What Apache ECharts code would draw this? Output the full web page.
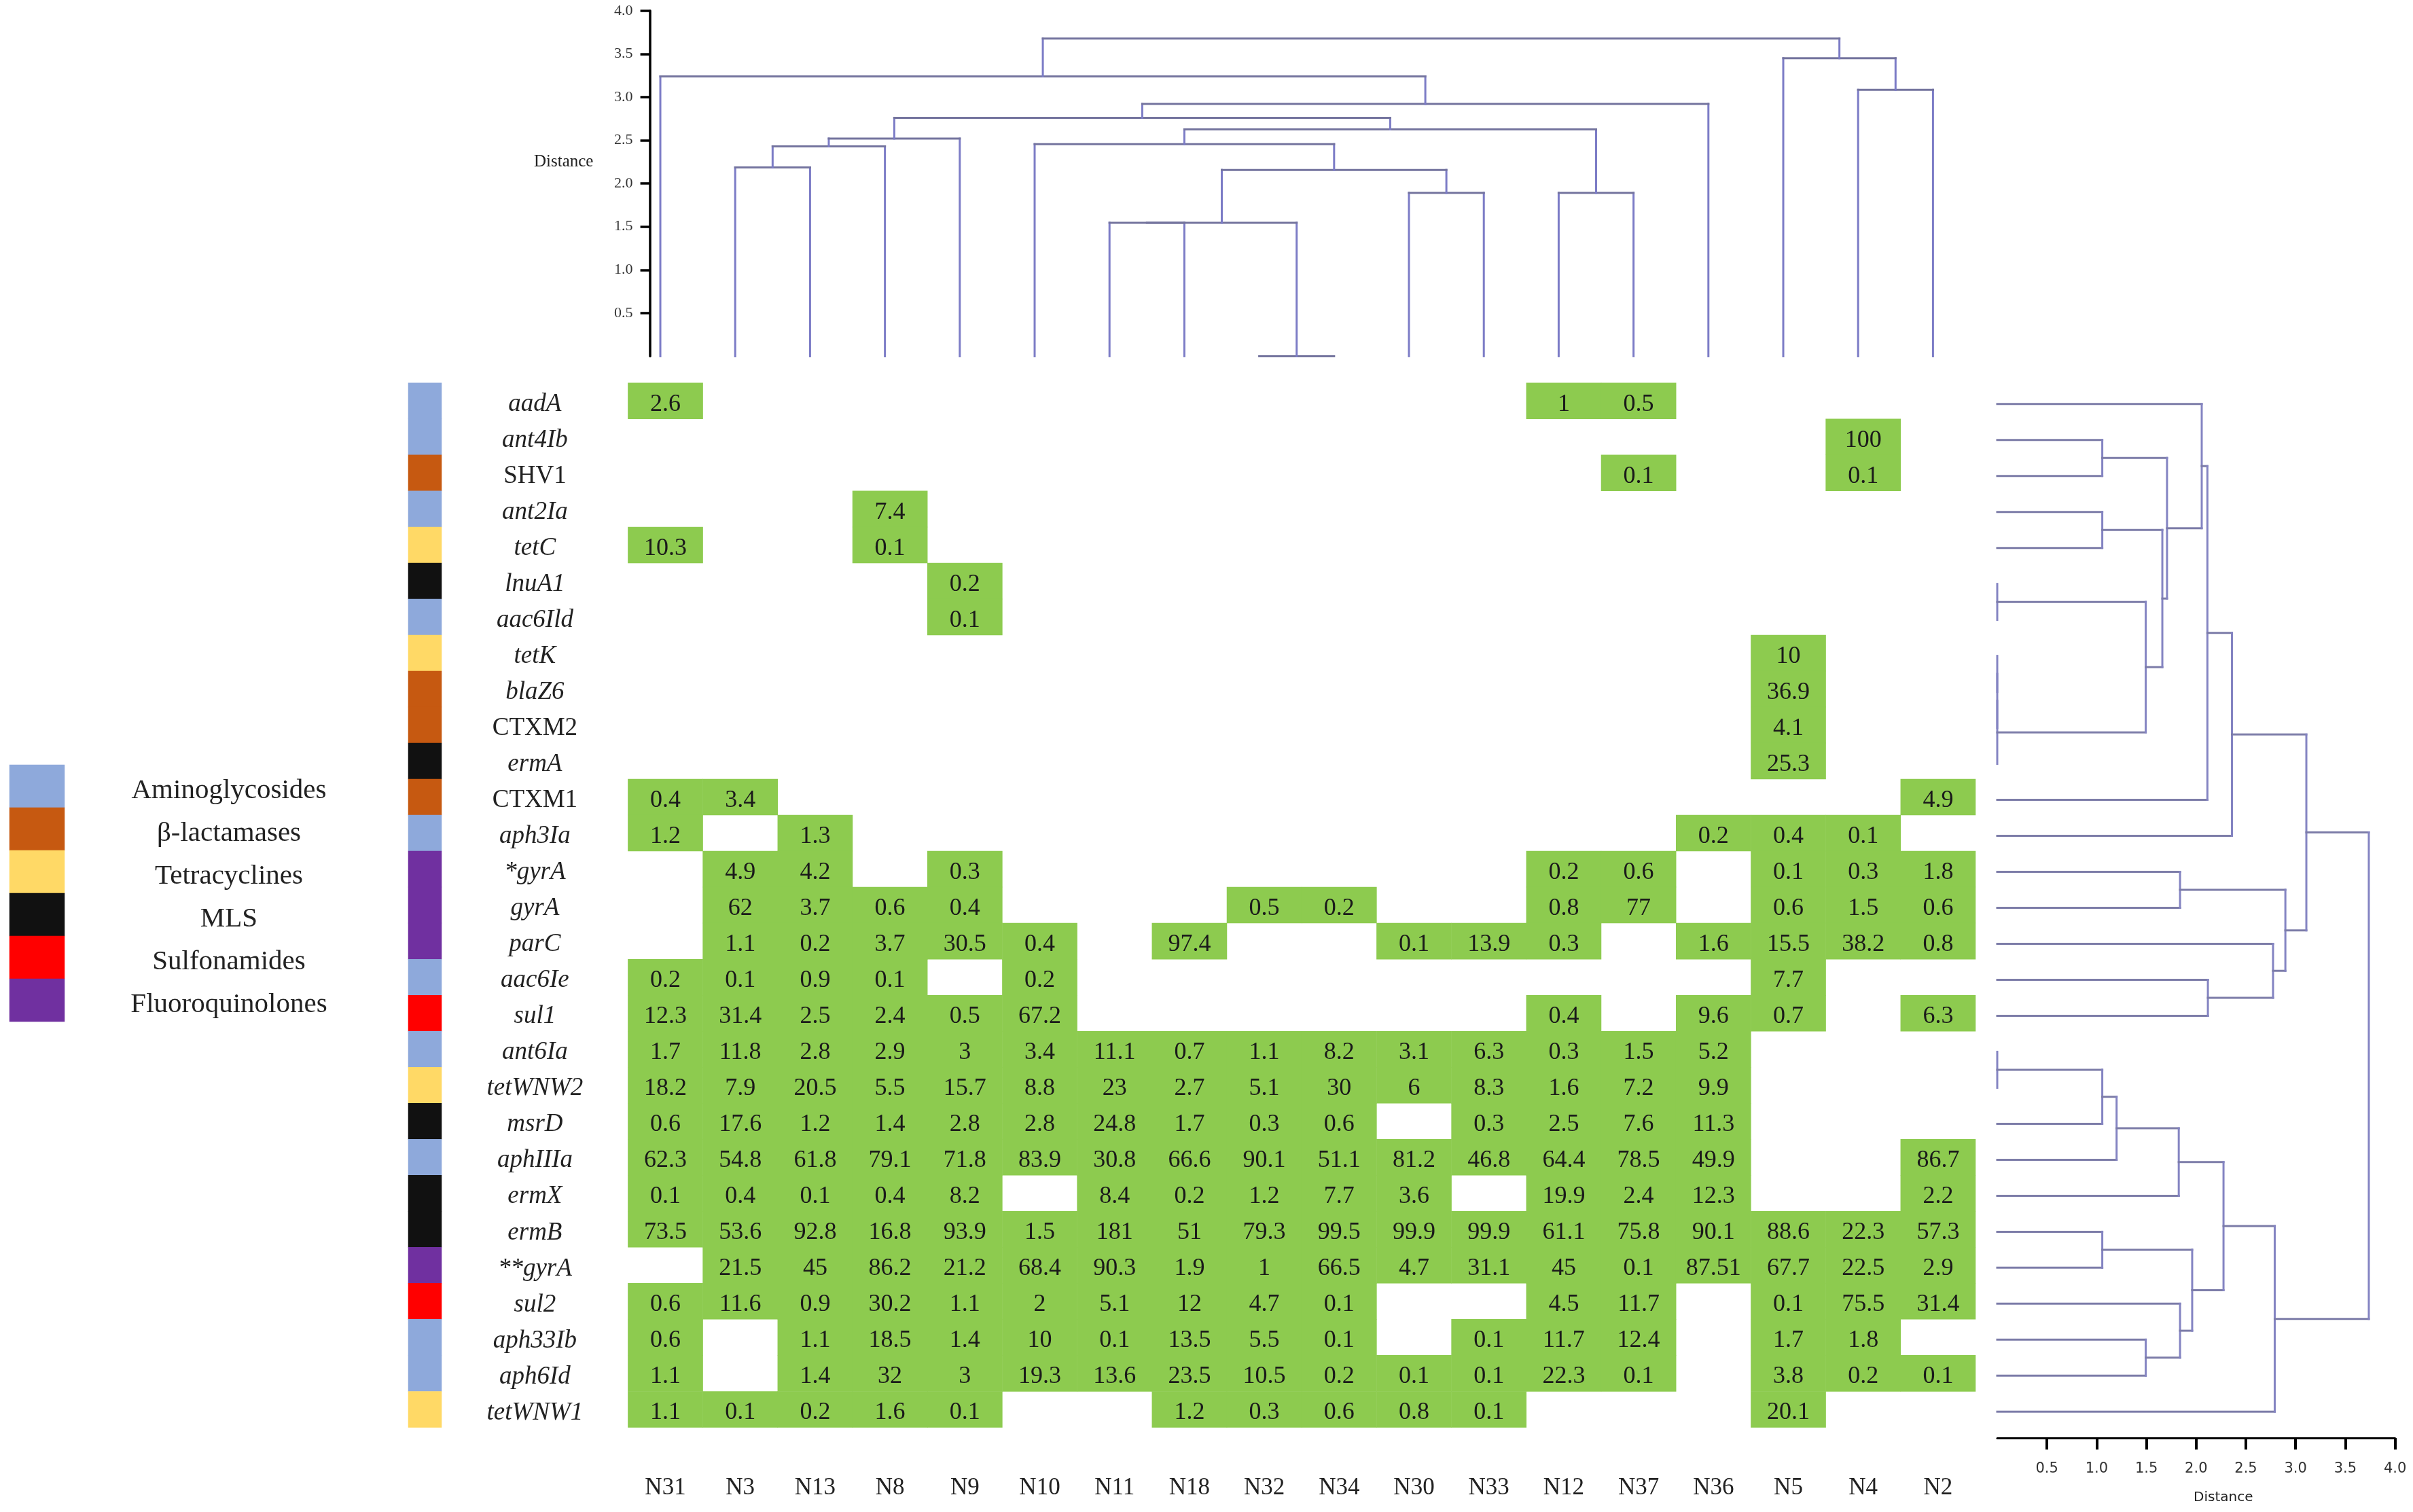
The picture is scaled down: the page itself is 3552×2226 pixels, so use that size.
<!DOCTYPE html>
<html lang="en" style="height: 100%">
<head>
  <meta charset="utf-8">
</head>
<body style="height: 100%; margin: 0; background: #fff">
  <div id="container" style="height: 100%"></div>

  <script type="text/javascript" src="https://cdn.jsdelivr.net/npm/echarts@6/dist/echarts.min.js"></script>
  <script type="text/javascript">
    const _ = null;
    const samples = ['N31', 'N3', 'N13', 'N8', 'N9', 'N10', 'N11', 'N18', 'N32', 'N34', 'N30', 'N33', 'N12', 'N37', 'N36', 'N5', 'N4', 'N2'];
    const genes = ['aadA', 'ant4Ib', 'SHV1', 'ant2Ia', 'tetC', 'lnuA1', 'aac6Ild', 'tetK', 'blaZ6', 'CTXM2', 'ermA', 'CTXM1', 'aph3Ia', '*gyrA', 'gyrA', 'parC', 'aac6Ie', 'sul1', 'ant6Ia', 'tetWNW2', 'msrD', 'aphIIIa', 'ermX', 'ermB', '**gyrA', 'sul2', 'aph33Ib', 'aph6Id', 'tetWNW1'];
    const uprightGenes = ['SHV1', 'CTXM2', 'CTXM1'];
    const classNames = ['Aminoglycosides', 'β-lactamases', 'Tetracyclines', 'MLS', 'Sulfonamides', 'Fluoroquinolones'];
    const classColors = ['#8ea9db', '#c65911', '#ffd966', '#111111', '#ff0000', '#7030a0'];
    // class index of each gene, same order as genes
    const geneClasses = [0, 0, 1, 0, 2, 3, 0, 2, 1, 1, 3, 1, 0, 5, 5, 5, 0, 4, 0, 2, 3, 0, 3, 3, 5, 4, 0, 0, 2];

    // one line per gene, one column per sample
    const cellValues = [
      [2.6, _, _, _, _, _, _, _, _, _, _, _, 1, 0.5, _, _, _, _],
      [_, _, _, _, _, _, _, _, _, _, _, _, _, _, _, _, 100, _],
      [_, _, _, _, _, _, _, _, _, _, _, _, _, 0.1, _, _, 0.1, _],
      [_, _, _, 7.4, _, _, _, _, _, _, _, _, _, _, _, _, _, _],
      [10.3, _, _, 0.1, _, _, _, _, _, _, _, _, _, _, _, _, _, _],
      [_, _, _, _, 0.2, _, _, _, _, _, _, _, _, _, _, _, _, _],
      [_, _, _, _, 0.1, _, _, _, _, _, _, _, _, _, _, _, _, _],
      [_, _, _, _, _, _, _, _, _, _, _, _, _, _, _, 10, _, _],
      [_, _, _, _, _, _, _, _, _, _, _, _, _, _, _, 36.9, _, _],
      [_, _, _, _, _, _, _, _, _, _, _, _, _, _, _, 4.1, _, _],
      [_, _, _, _, _, _, _, _, _, _, _, _, _, _, _, 25.3, _, _],
      [0.4, 3.4, _, _, _, _, _, _, _, _, _, _, _, _, _, _, _, 4.9],
      [1.2, _, 1.3, _, _, _, _, _, _, _, _, _, _, _, 0.2, 0.4, 0.1, _],
      [_, 4.9, 4.2, _, 0.3, _, _, _, _, _, _, _, 0.2, 0.6, _, 0.1, 0.3, 1.8],
      [_, 62, 3.7, 0.6, 0.4, _, _, _, 0.5, 0.2, _, _, 0.8, 77, _, 0.6, 1.5, 0.6],
      [_, 1.1, 0.2, 3.7, 30.5, 0.4, _, 97.4, _, _, 0.1, 13.9, 0.3, _, 1.6, 15.5, 38.2, 0.8],
      [0.2, 0.1, 0.9, 0.1, _, 0.2, _, _, _, _, _, _, _, _, _, 7.7, _, _],
      [12.3, 31.4, 2.5, 2.4, 0.5, 67.2, _, _, _, _, _, _, 0.4, _, 9.6, 0.7, _, 6.3],
      [1.7, 11.8, 2.8, 2.9, 3, 3.4, 11.1, 0.7, 1.1, 8.2, 3.1, 6.3, 0.3, 1.5, 5.2, _, _, _],
      [18.2, 7.9, 20.5, 5.5, 15.7, 8.8, 23, 2.7, 5.1, 30, 6, 8.3, 1.6, 7.2, 9.9, _, _, _],
      [0.6, 17.6, 1.2, 1.4, 2.8, 2.8, 24.8, 1.7, 0.3, 0.6, _, 0.3, 2.5, 7.6, 11.3, _, _, _],
      [62.3, 54.8, 61.8, 79.1, 71.8, 83.9, 30.8, 66.6, 90.1, 51.1, 81.2, 46.8, 64.4, 78.5, 49.9, _, _, 86.7],
      [0.1, 0.4, 0.1, 0.4, 8.2, _, 8.4, 0.2, 1.2, 7.7, 3.6, _, 19.9, 2.4, 12.3, _, _, 2.2],
      [73.5, 53.6, 92.8, 16.8, 93.9, 1.5, 181, 51, 79.3, 99.5, 99.9, 99.9, 61.1, 75.8, 90.1, 88.6, 22.3, 57.3],
      [_, 21.5, 45, 86.2, 21.2, 68.4, 90.3, 1.9, 1, 66.5, 4.7, 31.1, 45, 0.1, 87.51, 67.7, 22.5, 2.9],
      [0.6, 11.6, 0.9, 30.2, 1.1, 2, 5.1, 12, 4.7, 0.1, _, _, 4.5, 11.7, _, 0.1, 75.5, 31.4],
      [0.6, _, 1.1, 18.5, 1.4, 10, 0.1, 13.5, 5.5, 0.1, _, 0.1, 11.7, 12.4, _, 1.7, 1.8, _],
      [1.1, _, 1.4, 32, 3, 19.3, 13.6, 23.5, 10.5, 0.2, 0.1, 0.1, 22.3, 0.1, _, 3.8, 0.2, 0.1],
      [1.1, 0.1, 0.2, 1.6, 0.1, _, _, 1.2, 0.3, 0.6, 0.8, 0.1, _, _, _, 20.1, _, _]
    ];

    // dendrogram merges: [child, child, distance]
    // a string child is a leaf, a number child is an earlier merge of the list
    const sampleMerges = [
      ['N3', 'N13', 2.185], [0, 'N8', 2.43], [1, 'N9', 2.52],
      ['N32', 'N34', 0], ['N11', 'N18', 1.545], [4, 3, 1.545],
      ['N30', 'N33', 1.89], [5, 6, 2.157], ['N10', 7, 2.455],
      ['N12', 'N37', 1.89], [8, 9, 2.626], [2, 10, 2.76],
      [11, 'N36', 2.92], ['N31', 12, 3.24], ['N4', 'N2', 3.084],
      ['N5', 14, 3.45], [13, 15, 3.677]
    ];
    const geneMerges = [
      ['ant4Ib', 'SHV1', 1.056], ['ant2Ia', 'tetC', 1.056], ['lnuA1', 'aac6Ild', 0],
      ['tetK', 'blaZ6', 0], [3, 'CTXM2', 0], [4, 'ermA', 0],
      [2, 5, 1.493], [1, 6, 1.66], [0, 7, 1.707],
      ['aadA', 8, 2.056], [9, 'CTXM1', 2.113], [10, 'aph3Ia', 2.36],
      ['*gyrA', 'gyrA', 1.838], ['aac6Ie', 'sul1', 2.118], ['parC', 13, 2.773],
      [12, 14, 2.897], [11, 15, 3.108],
      ['ant6Ia', 'tetWNW2', 0], [17, 'msrD', 1.056], [18, 'aphIIIa', 1.2],
      [19, 'ermX', 1.825], ['ermB', '**gyrA', 1.056], ['aph33Ib', 'aph6Id', 1.493],
      ['sul2', 22, 1.838], [21, 23, 1.96], [20, 24, 2.275],
      [25, 'tetWNW1', 2.79], [16, 26, 3.736]
    ];
    const distanceTicks = [0.5, 1, 1.5, 2, 2.5, 3, 3.5, 4];

    const SERIF = '"Liberation Serif", serif';
    const SANS = '"DejaVu Sans", sans-serif';

    // [pos a, height a, pos b, height b, height]
    const buildLinks = (merges, leaves) => {
      const nodes = [];
      const child = (c) => typeof c === 'string'
        ? { pos: leaves.indexOf(c), h: 0 }
        : nodes[c];
      return merges.map(([a, b, h]) => {
        const ca = child(a);
        const cb = child(b);
        nodes.push({ pos: (ca.pos + cb.pos) / 2, h });
        return [ca.pos, ca.h, cb.pos, cb.h, h];
      });
    };

    // stems run along the distance axis, the bar joins them
    const linkRenderer = (horizontal, stemColor, barColor) => (params, api) => {
      const pt = (pos, h) => api.coord(horizontal ? [h, pos] : [pos, h]);
      const [p1, h1, p2, h2, h] = [0, 1, 2, 3, 4].map((i) => api.value(i));
      const seg = (a, b, stroke) => ({
        type: 'line',
        shape: { x1: a[0], y1: a[1], x2: b[0], y2: b[1] },
        style: { stroke, lineWidth: 3, lineCap: 'square' }
      });
      return {
        type: 'group',
        children: [
          seg(pt(p1, h1), pt(p1, h), stemColor),
          seg(pt(p2, h2), pt(p2, h), stemColor),
          seg(pt(p1, h), pt(p2, h), barColor)
        ]
      };
    };

    const heatCells = [];
    cellValues.forEach((row, r) => {
      row.forEach((v, c) => {
        if (v !== null) heatCells.push([c, r, v]);
      });
    });

    const hidden = { show: false };
    const stripItem = (colorIdx, r) => ({
      value: [0, r, colorIdx],
      itemStyle: { color: classColors[colorIdx] }
    });

    var dom = document.getElementById('container');
    var myChart = echarts.init(dom, null, { renderer: 'canvas' });
    var option = {
      animation: false,
      backgroundColor: '#fff',
      grid: [
        { left: 924.4, top: 563.8, width: 1983.6, height: 1537.6 },
        { left: 601, top: 563.8, width: 49, height: 1537.6 },
        { left: 14, top: 1126, width: 81, height: 378 },
        { left: 956.6, top: 15.8, width: 1888.8, height: 508.6 },
        { left: 2940, top: 594.7, width: 585.6, height: 1522.3 }
      ],
      graphic: [
        {
          type: 'text', left: 786, top: 226,
          style: { text: 'Distance', font: '25px ' + SERIF, fill: '#222' }
        }
      ],
      xAxis: [
        {
          gridIndex: 0, type: 'category', data: samples, position: 'bottom',
          axisLine: hidden, axisTick: hidden,
          axisLabel: { interval: 0, margin: 72, fontFamily: SERIF, fontSize: 35, color: '#222' }
        },
        { gridIndex: 1, type: 'category', data: [''], show: false },
        { gridIndex: 2, type: 'category', data: [''], show: false },
        { gridIndex: 3, type: 'value', min: -0.14, max: 17, show: false },
        {
          gridIndex: 4, type: 'value', min: 0, max: 4, interval: 0.5, position: 'bottom',
          splitLine: hidden,
          axisLine: { onZero: false, lineStyle: { color: '#000', width: 3 } },
          axisTick: { length: 17, customValues: distanceTicks, lineStyle: { color: '#000', width: 4 } },
          axisLabel: {
            margin: 35, customValues: distanceTicks,
            formatter: (v) => v.toFixed(1),
            fontFamily: SANS, fontSize: 21, color: '#333'
          },
          name: 'Distance', nameLocation: 'middle', nameGap: 78,
          nameTextStyle: { fontFamily: SANS, fontSize: 20, color: '#222', padding: [0, 0, 0, 80] }
        }
      ],
      yAxis: [
        {
          gridIndex: 0, type: 'category', data: genes, inverse: true,
          axisLine: hidden, axisTick: hidden,
          axisLabel: {
            interval: 0, margin: 137, align: 'center', padding: [10, 0, 0, 0],
            formatter: (g) => (uprightGenes.includes(g) ? `{n|${g}}` : `{i|${g}}`),
            rich: {
              i: { fontFamily: SERIF, fontStyle: 'italic', fontSize: 37, color: '#222' },
              n: { fontFamily: SERIF, fontSize: 37, color: '#222' }
            }
          }
        },
        { gridIndex: 1, type: 'category', data: genes, inverse: true, show: false },
        {
          gridIndex: 2, type: 'category', data: classNames, inverse: true, position: 'right',
          axisLine: hidden, axisTick: hidden,
          axisLabel: {
            interval: 0, margin: 242, align: 'center', padding: [14, 0, 0, 0],
            formatter: (c) => `{c|${c}}`,
            rich: { c: { fontFamily: SERIF, fontSize: 41, color: '#222' } }
          }
        },
        {
          gridIndex: 3, type: 'value', min: 0, max: 4, interval: 0.5,
          splitLine: hidden,
          axisLine: { onZero: false, lineStyle: { color: '#000', width: 3.5 } },
          axisTick: { length: 14, customValues: distanceTicks, lineStyle: { color: '#000', width: 3.5 } },
          axisLabel: {
            margin: 25, customValues: distanceTicks,
            formatter: (v) => v.toFixed(1),
            fontFamily: SERIF, fontSize: 22, color: '#333'
          }
        },
        { gridIndex: 4, type: 'value', min: 0, max: 28.73, inverse: true, show: false }
      ],
      series: [
        {
          type: 'heatmap', xAxisIndex: 0, yAxisIndex: 0, data: heatCells,
          itemStyle: { color: '#8dcb4f' },
          label: {
            show: true, formatter: (p) => String(p.value[2]), offset: [0, 5],
            fontFamily: SERIF, fontSize: 36, color: '#1a1a1a'
          }
        },
        {
          type: 'heatmap', xAxisIndex: 1, yAxisIndex: 1,
          data: geneClasses.map(stripItem)
        },
        {
          type: 'heatmap', xAxisIndex: 2, yAxisIndex: 2,
          data: classColors.map((c, i) => i).map(stripItem)
        },
        {
          type: 'custom', xAxisIndex: 3, yAxisIndex: 3,
          renderItem: linkRenderer(false, '#7c7cc6', '#74749e'),
          data: buildLinks(sampleMerges, samples)
        },
        {
          type: 'custom', xAxisIndex: 4, yAxisIndex: 4,
          renderItem: linkRenderer(true, '#7c7ca8', '#8484c2'),
          encode: { x: 4, y: 0 },
          data: buildLinks(geneMerges, genes)
        }
      ]
    };
    myChart.setOption(option);
    window.addEventListener('resize', myChart.resize);
  </script>
</body>
</html>
